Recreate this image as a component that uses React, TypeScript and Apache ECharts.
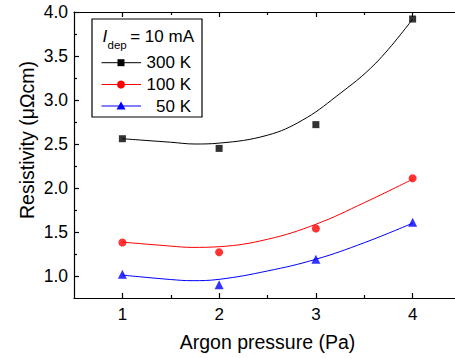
import React, { useEffect, useRef } from "react";
import * as echarts from "echarts";

const pressures = [1, 2, 3, 4];
const rho300 = [2.56, 2.45, 2.72, 3.92];
const rho100 = [1.38, 1.27, 1.54, 2.11];
const rho50 = [1.02, 0.9, 1.19, 1.61];

const fit300 = [
  [1, 2.56], [1.5, 2.52], [1.75, 2.5], [2, 2.51], [2.5, 2.6], [2.86, 2.77], [3.21, 3.04], [3.62, 3.42], [4, 3.92],
];
const fit100 = [
  [1, 1.385], [1.5, 1.34], [1.72, 1.325], [2, 1.333], [2.5, 1.417], [3, 1.588], [3.5, 1.833], [4, 2.1],
];
const fit50 = [
  [1, 1.01], [1.5, 0.96], [1.72, 0.947], [2, 0.962], [2.5, 1.057], [3, 1.19], [3.5, 1.378], [4, 1.6],
];

const xMajor = [1, 2, 3, 4];
const xMinor = [1.5, 2.5, 3.5];
const yMajor = [1.0, 1.5, 2.0, 2.5, 3.0, 3.5, 4.0];
const yMinor = [1.25, 1.75, 2.25, 2.75, 3.25, 3.75];

const legendRows = ["300 K", "100 K", "50 K"];
const colors = ["#000000", "#ff0000", "#0000ff"];
const symbols = ["rect", "circle", "triangle"];

const FONT = "Liberation Sans, Arial, sans-serif";

export default function App() {
  const ref = useRef<HTMLDivElement>(null);
  useEffect(() => {
    if (!ref.current) return;
    const chart = echarts.init(ref.current, undefined, { renderer: "svg" });
    const X0 = 0.5, X1 = 4.5, Y0 = 0.75, Y1 = 4.0;
    const lineStyle = { color: "#000", width: 1.2 };
    const mkX = (pos: "top" | "bottom", vals: number[], len: number, main: boolean) => ({
      type: "value",
      position: pos,
      min: X0,
      max: X1,
      axisLine: { show: main, lineStyle },
      axisTick: { show: true, inside: true, length: len, customValues: vals, lineStyle: { color: "#000", width: 1.2 } },
      axisLabel: main && pos === "bottom"
        ? { show: true, customValues: xMajor, fontSize: 17, color: "#000", fontFamily: FONT, margin: 8 }
        : { show: false },
      splitLine: { show: false },
      ...(main && pos === "bottom"
        ? {
            name: "Argon pressure (Pa)",
            nameLocation: "middle",
            nameGap: 34,
            nameTextStyle: { fontSize: 19.5, color: "#000", fontFamily: FONT },
          }
        : {}),
    });
    const mkY = (vals: number[], len: number, main: boolean) => ({
      type: "value",
      position: "left",
      min: Y0,
      max: Y1,
      axisLine: { show: main, lineStyle },
      axisTick: { show: true, inside: true, length: len, customValues: vals, lineStyle: { color: "#000", width: 1.2 } },
      axisLabel: main
        ? {
            show: true,
            customValues: yMajor,
            fontSize: 17.5,
            color: "#000",
            fontFamily: FONT,
            margin: 6,
            formatter: (v: number) => v.toFixed(1),
          }
        : { show: false },
      splitLine: { show: false },
    });

    const sizes = [7, 8, 9];
    const scatter = [rho300, rho100, rho50].map((arr, i) => ({
      type: "scatter",
      xAxisIndex: 0,
      yAxisIndex: 0,
      symbol: symbols[i],
      symbolSize: sizes[i],
      itemStyle: { color: colors[i] },
      z: 5,
      data: pressures.map((p, j) => [p, arr[j]]),
    }));
    const curves = [fit300, fit100, fit50].map((arr, i) => ({
      type: "line",
      xAxisIndex: 0,
      yAxisIndex: 0,
      smooth: 0.4,
      showSymbol: false,
      symbol: "none",
      lineStyle: { color: colors[i], width: 1 },
      z: 3,
      data: arr,
    }));

    // legend graphics
    const LX = 92, LY = 19, LW = 110, LH = 98;
    const rowY = [62.7, 84.5, 106];
    const legendEls: any[] = [
      { type: "rect", shape: { x: LX, y: LY, width: LW, height: LH }, style: { fill: "#fff", stroke: "#000", lineWidth: 1.2 }, z: 10 },
      { type: "text", x: 102.5, y: 36, style: { text: "I", fontSize: 17, fontStyle: "italic", fontFamily: FONT, fill: "#000", verticalAlign: "middle" }, z: 11 },
      { type: "text", x: 107.5, y: 45, style: { text: "dep", fontSize: 11.5, fontFamily: FONT, fill: "#000", verticalAlign: "middle" }, z: 11 },
      { type: "text", x: 194, y: 36, style: { text: "= 10 mA", fontSize: 17, fontFamily: FONT, fill: "#000", align: "right", verticalAlign: "middle" }, z: 11 },
    ];
    legendRows.forEach((label, i) => {
      const y = rowY[i];
      legendEls.push({ type: "line", shape: { x1: 101.5, y1: y, x2: 141, y2: y }, style: { stroke: colors[i], lineWidth: 1 }, z: 11 });
      if (i === 0) {
        legendEls.push({ type: "rect", shape: { x: 121 - 3.5, y: y - 3.5, width: 7, height: 7 }, style: { fill: colors[i] }, z: 12 });
      } else if (i === 1) {
        legendEls.push({ type: "circle", shape: { cx: 121, cy: y, r: 4 }, style: { fill: colors[i] }, z: 12 });
      } else {
        legendEls.push({ type: "polygon", shape: { points: [[121, y - 4.5], [125.5, y + 3.5], [116.5, y + 3.5]] }, style: { fill: colors[i] }, z: 12 });
      }
      legendEls.push({ type: "text", x: 191, y, style: { text: label, fontSize: 17, fontFamily: FONT, fill: "#000", align: "right", verticalAlign: "middle" }, z: 11 });
    });
    legendEls.push({
      type: "text",
      x: 27,
      y: 140,
      rotation: Math.PI / 2,
      style: { text: "Resistivity (\u03bc\u03a9cm)", fontSize: 19.5, fontFamily: FONT, fill: "#000", align: "center", verticalAlign: "middle" },
      z: 11,
    });

    chart.setOption({
      animation: false,
      backgroundColor: "#fff",
      grid: { left: 74, top: 12, width: 387, height: 286, containLabel: false, outerBoundsMode: "none" },
      xAxis: [mkX("bottom", xMajor, 5, true), mkX("top", xMajor, 5, true), mkX("bottom", xMinor, 3, false), mkX("top", xMinor, 3, false)],
      yAxis: [mkY(yMajor, 5, true), mkY(yMinor, 3, false)],
      series: [...curves, ...scatter],
      graphic: legendEls,
    });
    return () => chart.dispose();
  }, []);
  return <div ref={ref} style={{ position: "absolute", left: 0, top: 0, width: 455, height: 358 }} />;
}
